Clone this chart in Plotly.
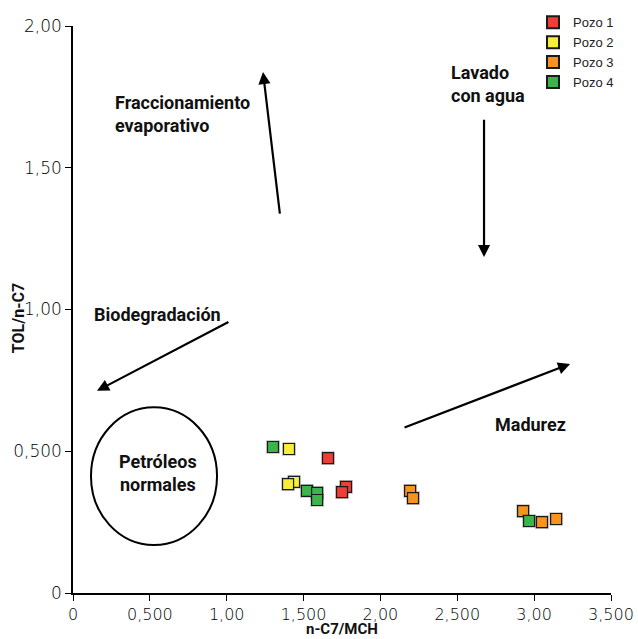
import plotly.graph_objects as go

# Data
series_names = ["Pozo 1", "Pozo 2", "Pozo 3", "Pozo 4"]
pozo1_x = [1.659, 1.776, 1.750]
pozo1_y = [0.476, 0.374, 0.356]
pozo2_x = [1.405, 1.438, 1.399]
pozo2_y = [0.508, 0.392, 0.384]
pozo3_x = [2.193, 2.212, 2.928, 3.051, 3.143]
pozo3_y = [0.360, 0.335, 0.289, 0.250, 0.261]
pozo4_x = [1.301, 1.522, 1.588, 1.588, 2.967]
pozo4_y = [0.515, 0.360, 0.353, 0.328, 0.254]
colors = ["#EE3F37", "#F7EE3A", "#F7941E", "#39B54A"]

x_tickvals = [0, 0.5, 1.0, 1.5, 2.0, 2.5, 3.0, 3.5]
x_ticktext = ["0", "0,500", "1,00", "1,500", "2,00", "2,500", "3,00", "3,500"]
y_tickvals = [0, 0.5, 1.0, 1.5, 2.0]
y_ticktext = ["0", "0,500", "1,00", "1,50", "2,00"]

xs = [pozo1_x, pozo2_x, pozo3_x, pozo4_x]
ys = [pozo1_y, pozo2_y, pozo3_y, pozo4_y]

BOLD = "Liberation Sans Narrow, Arial Narrow, Roboto, sans-serif"
LIGHT = "DejaVu Sans, sans-serif"

fig = go.Figure()

for i, (name, x, y, c) in enumerate(zip(series_names, xs, ys, colors)):
    fig.add_trace(go.Scatter(
        x=x, y=y, mode="markers", showlegend=False, hoverinfo="skip",
        marker=dict(symbol="square", size=14, color="rgba(0,0,0,0.18)", line=dict(width=0)),
    ))
    fig.add_trace(go.Scatter(
        x=x, y=y, mode="markers", name=name,
        marker=dict(symbol="square", size=11, color=c, line=dict(color="#1a1a1a", width=1.2)),
    ))

# Circle "Petróleos normales"
fig.add_shape(type="circle", xref="x", yref="y", x0=0.117, x1=0.937, y0=0.169, y1=0.655,
              line=dict(color="black", width=2))

def label(text, x, y, xanchor="left", align="left"):
    fig.add_annotation(x=x, y=y, text=text, showarrow=False, xref="x", yref="y",
                       xanchor=xanchor, yanchor="middle", align=align,
                       font=dict(family=BOLD, size=18, color="#111", weight="bold"))

def arrow(x0, y0, x1, y1):
    fig.add_annotation(x=x1, y=y1, ax=x0, ay=y0, xref="x", yref="y", axref="x", ayref="y",
                       text="", showarrow=True, arrowhead=2, arrowsize=1.1, arrowwidth=2.2,
                       arrowcolor="black")

label("Fraccionamiento<br>evaporativo", 0.260, 1.691)
label("Lavado<br>con agua", 2.446, 1.795)
label("Biodegradación", 0.124, 0.981)
label("Madurez", 2.733, 0.596)
label("Petróleos<br>normales", 0.55, 0.425, xanchor="center", align="center")

arrow(1.347, 1.333, 1.236, 1.838)
arrow(2.674, 1.675, 2.674, 1.185)
arrow(1.021, 0.959, 0.156, 0.713)
arrow(2.147, 0.582, 3.234, 0.808)

# Axis titles
fig.add_annotation(x=0.5, y=-0.0825, xref="paper", yref="paper", text="n-C7/MCH",
                   showarrow=False, xanchor="center", yanchor="bottom",
                   font=dict(family=BOLD, size=15, color="#111", weight="bold"))
fig.add_annotation(x=-0.102, y=0.485, xref="paper", yref="paper", text="TOL/n-C7",
                   showarrow=False, xanchor="center", yanchor="middle", textangle=-90,
                   font=dict(family=BOLD, size=16, color="#111", weight="bold"))

fig.update_layout(
    width=638, height=639,
    margin=dict(l=73, r=27, t=26, b=46, autoexpand=False),
    paper_bgcolor="white", plot_bgcolor="white",
    showlegend=True,
    legend=dict(x=0.855, y=1.033, xanchor="left", yanchor="top",
                font=dict(family="Liberation Sans, Arial, sans-serif", size=13, color="#222"),
                bgcolor="rgba(0,0,0,0)", itemsizing="constant"),
    xaxis=dict(range=[0, 3.5], tickvals=x_tickvals, ticktext=x_ticktext, automargin=False,
               showline=True, linecolor="black", linewidth=1.5, ticks="outside",
               ticklen=6, tickcolor="black", showgrid=False, zeroline=False,
               tickfont=dict(family=LIGHT, size=16, color="#000", weight=200)),
    yaxis=dict(range=[0, 2.0], tickvals=y_tickvals, ticktext=y_ticktext, automargin=False,
               showline=True, linecolor="black", linewidth=1.5, ticks="outside",
               ticklen=6, tickcolor="black", showgrid=False, zeroline=False,
               tickfont=dict(family=LIGHT, size=17, color="#000", weight=200)),
)

fig.write_html("out.html")
